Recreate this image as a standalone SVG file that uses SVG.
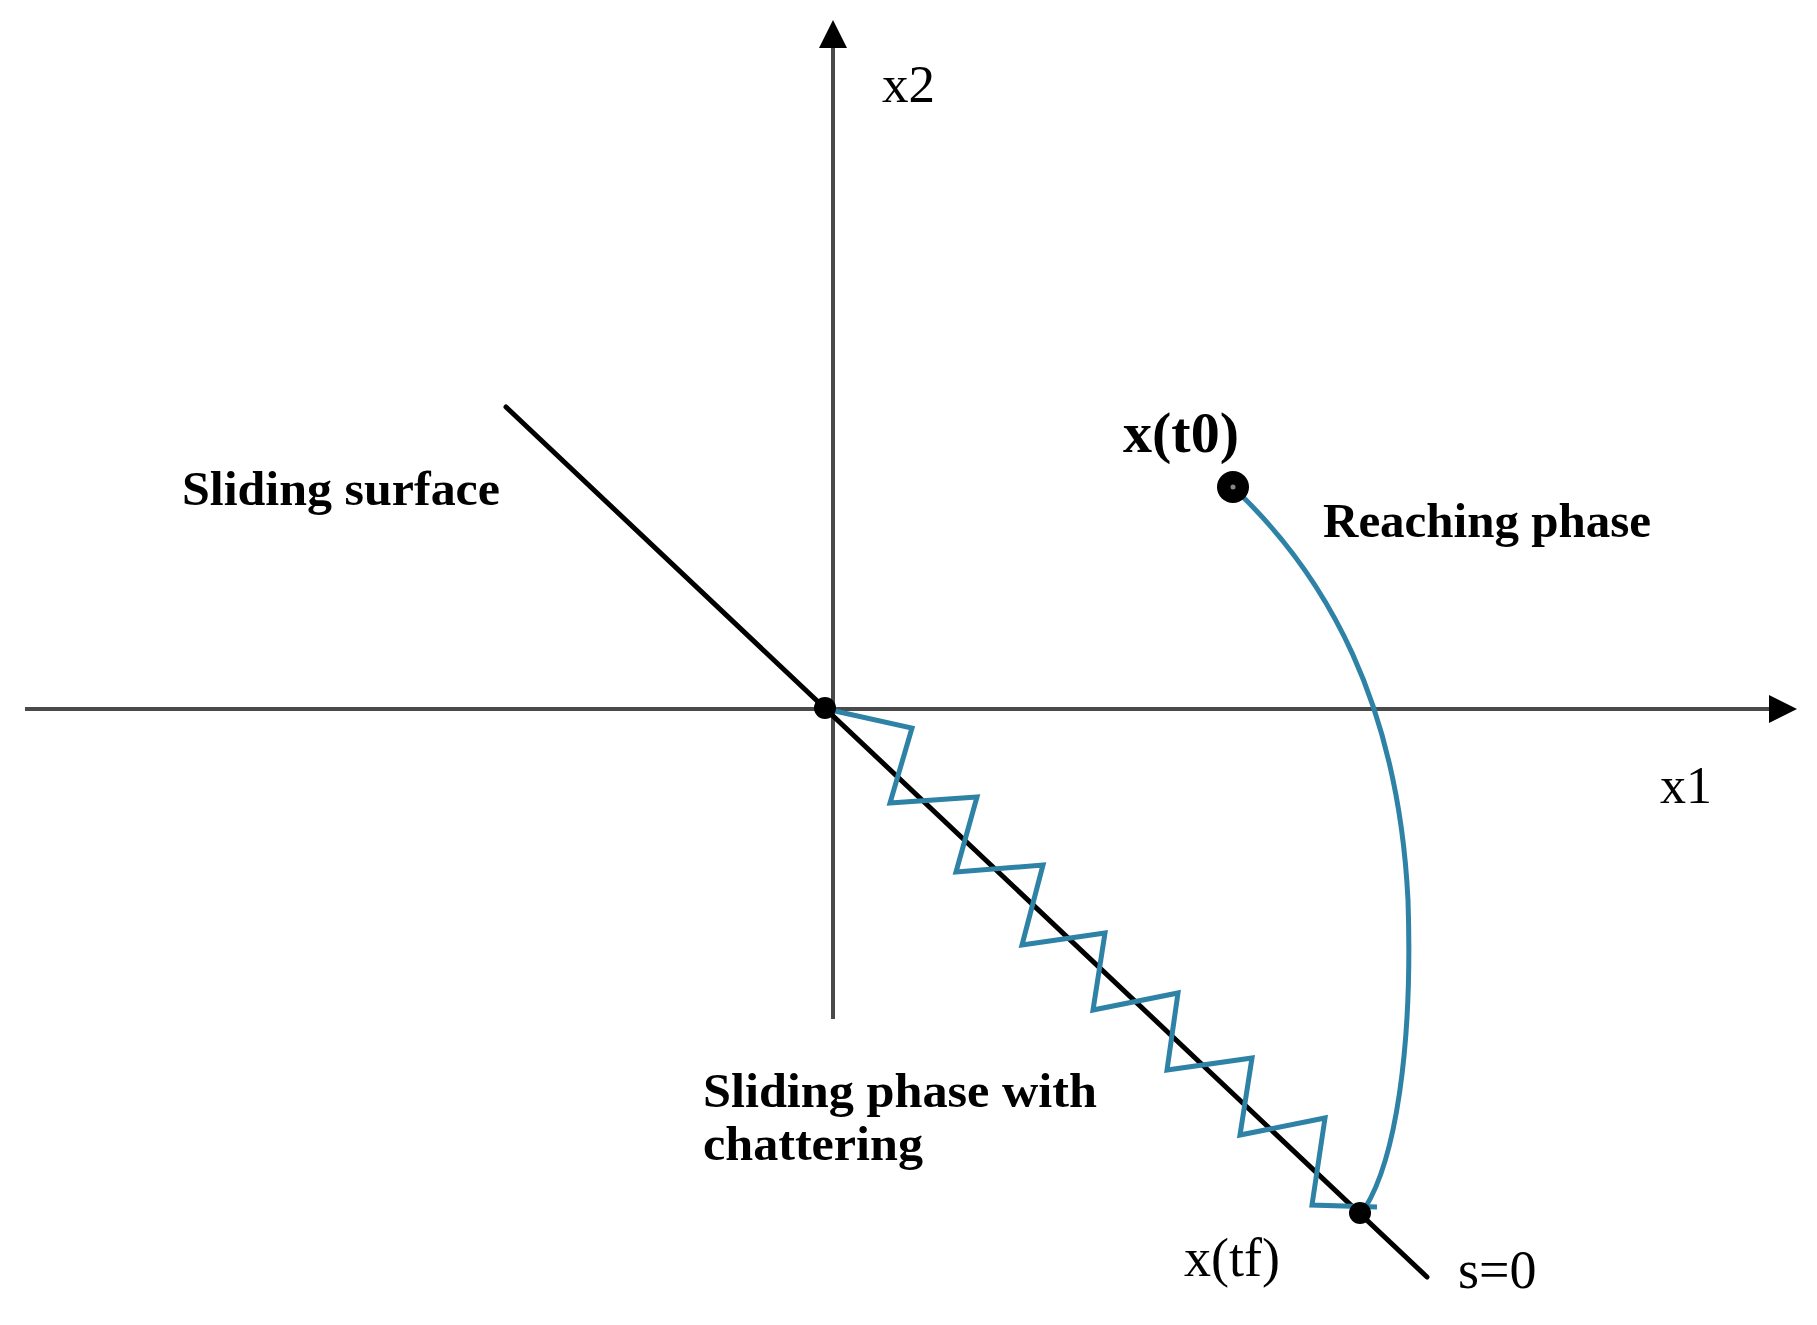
<svg xmlns="http://www.w3.org/2000/svg" width="1817" height="1325" viewBox="0 0 1817 1325">
<style>
.axis{stroke:#4a4a4a;stroke-width:4;fill:none}
.surf{stroke:#000;stroke-width:5;fill:none;stroke-linecap:round}
.traj{stroke:#2d82a6;stroke-width:5;fill:none;stroke-linejoin:miter}
.lbl{font-family:"Liberation Serif","Times New Roman",serif;font-weight:bold;fill:#000}
.reg{font-family:"Liberation Serif","Times New Roman",serif;fill:#000}
</style>
<defs>
<marker id="arrow" markerUnits="userSpaceOnUse" markerWidth="30" markerHeight="30" refX="18" refY="14" orient="auto">
<path d="M0,0 L28,14 L0,28 Z" fill="#000"/>
</marker>
</defs>
<rect width="1817" height="1325" fill="#fff"/>
<g id="connectors">
<line id="x1-axis" class="axis" x1="25" y1="709" x2="1787" y2="709" marker-end="url(#arrow)"/>
<line id="x2-axis" class="axis" x1="833" y1="1019" x2="833" y2="30" marker-end="url(#arrow)"/>
<line id="sliding-line" class="surf" x1="506" y1="407" x2="1427" y2="1277"/>
<path id="reaching-curve" class="traj" d="M1243,497 C1325,578 1398,700 1408,900 C1413,1050 1395,1160 1365,1208"/>
<path id="chattering" class="traj" d="M826,709 L912,728 L890,803 L977,797 L956,872 L1043,865 L1022,945 L1105,933 L1093,1010 L1178,993 L1167,1070 L1252,1058 L1240,1135 L1325,1118 L1312,1205 L1377,1207"/>
</g>
<g id="origin"><circle cx="825" cy="708" r="11" fill="#000"/></g>
<g id="x-t0">
<circle cx="1233" cy="487" r="16" fill="#000"/>
<circle cx="1233" cy="487" r="2.5" fill="#888"/>
<text class="lbl" x="1123" y="452" font-size="56" textLength="116" lengthAdjust="spacingAndGlyphs">x(t0)</text>
</g>
<g id="x-tf">
<circle cx="1360" cy="1213" r="11" fill="#000"/>
<text class="reg" x="1184" y="1276" font-size="54">x(tf)</text>
</g>
<g id="labels">
<text class="reg" x="882" y="102" font-size="53">x2</text>
<text class="reg" x="1660" y="803" font-size="52">x1</text>
<text class="reg" x="1458" y="1288" font-size="54">s=0</text>
<text class="lbl" x="182" y="505" font-size="49" textLength="318" lengthAdjust="spacingAndGlyphs">Sliding surface</text>
<text class="lbl" x="1323" y="537" font-size="49" textLength="328" lengthAdjust="spacingAndGlyphs">Reaching phase</text>
<text class="lbl" x="703" y="1107" font-size="49" textLength="394" lengthAdjust="spacingAndGlyphs">Sliding phase with</text>
<text class="lbl" x="703" y="1160" font-size="49" textLength="220" lengthAdjust="spacingAndGlyphs">chattering</text>
</g>
</svg>
